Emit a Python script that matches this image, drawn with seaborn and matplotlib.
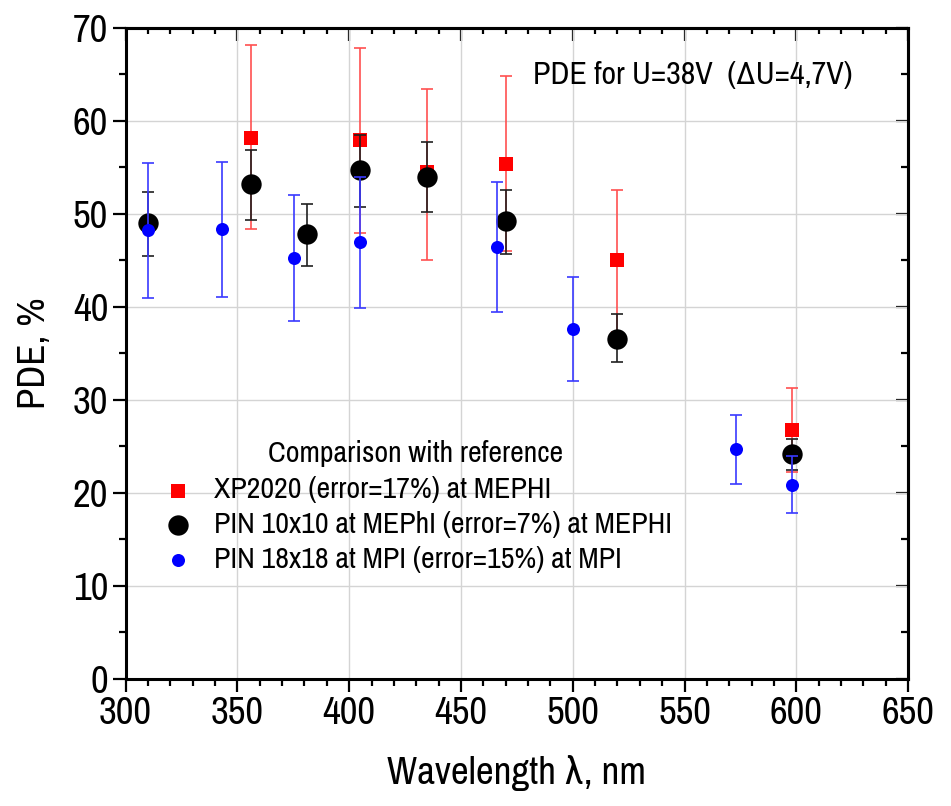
import matplotlib
matplotlib.use("Agg")
import matplotlib.pyplot as plt
from matplotlib import font_manager
from matplotlib.ticker import MultipleLocator
import seaborn as sns
import pandas as pd

# ---------------- data ----------------
xp_wl = [356, 405, 435, 470, 520, 598]
xp_pde = [58.2, 57.9, 54.5, 55.4, 45.0, 26.8]
xp_top = [68.2, 67.8, 63.4, 64.8, 52.6, 31.3]
xp_bot = [48.4, 48.0, 45.0, 46.0, 37.3, 22.3]

pin10_wl = [310, 356, 381, 405, 435, 470, 520, 598]
pin10_pde = [49.0, 53.2, 47.8, 54.7, 54.0, 49.2, 36.6, 24.2]
pin10_top = [52.4, 56.9, 51.1, 58.5, 57.7, 52.6, 39.2, 25.8]
pin10_bot = [45.5, 49.4, 44.4, 50.8, 50.2, 45.7, 34.1, 22.5]

pin18_wl = [310, 343, 375.5, 405, 466, 500, 573, 598]
pin18_pde = [48.3, 48.4, 45.3, 47.0, 46.5, 37.6, 24.7, 20.9]
pin18_top = [55.5, 55.6, 52.0, 54.0, 53.4, 43.2, 28.4, 24.0]
pin18_bot = [41.0, 41.1, 38.5, 39.9, 39.5, 32.0, 21.0, 17.8]

labels = ["XP2020 (error=17%) at MEPHI",
          "PIN 10x10 at MEPhI (error=7%) at MEPHI",
          "PIN 18x18 at MPI (error=15%) at MPI"]
legend_title = "Comparison with reference"
note = "PDE for U=38V  (\u0394U=4,7V)"
xlabel = "Wavelength \u03bb, nm"
ylabel = "PDE, %"
xticks = [300, 350, 400, 450, 500, 550, 600, 650]
yticks = [0, 10, 20, 30, 40, 50, 60, 70]

# ---------------- style ----------------
sns.set_style("white")
fam_list = []
for f in ["Archivo Narrow", "Roboto Condensed", "Liberation Sans"]:
    try:
        font_manager.findfont(font_manager.FontProperties(family=f),
                              fallback_to_default=False)
        fam_list.append(f)
    except Exception:
        pass
fam_list.append("DejaVu Sans")
plt.rcParams["font.family"] = fam_list
for k in ["text.color", "axes.labelcolor", "xtick.color", "ytick.color"]:
    plt.rcParams[k] = "black"

tick_fs = 28
label_fs = 28
leg_fs = 21.5

fig = plt.figure(figsize=(9.51, 8.06), dpi=100)
ax = fig.add_axes([0.132, 0.1576, 0.823, 0.8077])

series = [
    (xp_wl, xp_pde, xp_top, xp_bot, "red", "#ff5050", "s", 98, labels[0]),
    (pin10_wl, pin10_pde, pin10_top, pin10_bot, "black", "#202020", "o", 215, labels[1]),
    (pin18_wl, pin18_pde, pin18_top, pin18_bot, "blue", "#3a3aff", "o", 88, labels[2]),
]
z = 3
for wl, pde, top, bot, col, ecol, mk, sz, lab in series:
    df = pd.DataFrame({"wl": wl, "pde": pde})
    lo = [p - b for p, b in zip(pde, bot)]
    hi = [t - p for p, t in zip(pde, top)]
    ax.errorbar(wl, pde, yerr=[lo, hi], fmt="none", ecolor=ecol,
                elinewidth=1.2, capsize=4.6, capthick=1.2, zorder=z)
    sns.scatterplot(data=df, x="wl", y="pde", ax=ax, color=col, marker=mk,
                    s=sz, linewidth=0, label=lab, zorder=z + 1)
    z += 2

ax.set_xlim(300, 650)
ax.set_ylim(0, 70)
ax.set_xticks(xticks)
ax.set_yticks(yticks)
ax.xaxis.set_minor_locator(MultipleLocator(10))
ax.yaxis.set_minor_locator(MultipleLocator(5))
ax.grid(True, which="major", color="#d4d4d4", linewidth=1.0)
ax.set_axisbelow(True)

for sp in ax.spines.values():
    sp.set_visible(True)
    sp.set_color("black")
    sp.set_linewidth(2.2)

ax.tick_params(axis="both", which="major", direction="out", length=9.5,
               width=1.6, labelsize=tick_fs, color="black", pad=3)
ax.tick_params(axis="both", which="minor", direction="out", length=5,
               width=1.6, color="black")
ax.tick_params(bottom=True, left=True, which="both")

secx = ax.secondary_xaxis("top")
secx.set_xticks(xticks)
secx.xaxis.set_minor_locator(MultipleLocator(10))
secx.tick_params(which="major", direction="in", length=9.5, width=1.6, labeltop=False)
secx.tick_params(which="minor", direction="in", length=4.5, width=1.6)
secx.spines["top"].set_linewidth(2.2)
secy = ax.secondary_yaxis("right")
secy.set_yticks(yticks)
secy.yaxis.set_minor_locator(MultipleLocator(5))
secy.tick_params(which="major", direction="in", length=9, width=1.6, labelright=False)
secy.tick_params(which="minor", direction="in", length=5, width=1.6)
secy.spines["right"].set_linewidth(2.2)

ax.set_xlabel(xlabel, fontsize=label_fs, labelpad=17)
ax.set_ylabel(ylabel, fontsize=label_fs, labelpad=15)

ax.text(0.5206, 0.928, note, transform=ax.transAxes, fontsize=23,
        ha="left", va="center")

leg = ax.legend(loc="upper left", bbox_to_anchor=(0.027, 0.386), frameon=False,
                fontsize=leg_fs, title=legend_title, title_fontsize=leg_fs,
                handletextpad=0.55, labelspacing=0.26, borderaxespad=0,
                handlelength=1.3, markerscale=1.0)
leg._legend_box.sep = 7

fig.savefig("out.png", dpi=100)
